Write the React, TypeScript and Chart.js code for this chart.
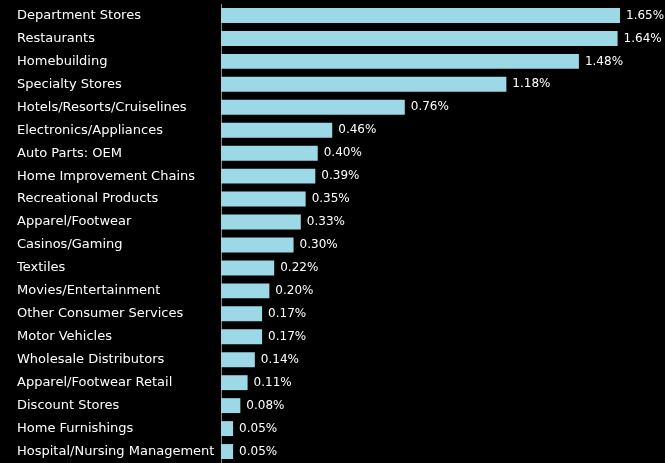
import React, { useEffect, useRef } from "react";
import { Chart, registerables } from "chart.js";

Chart.register(...registerables);

const categories = [
  "Department Stores",
  "Restaurants",
  "Homebuilding",
  "Specialty Stores",
  "Hotels/Resorts/Cruiselines",
  "Electronics/Appliances",
  "Auto Parts: OEM",
  "Home Improvement Chains",
  "Recreational Products",
  "Apparel/Footwear",
  "Casinos/Gaming",
  "Textiles",
  "Movies/Entertainment",
  "Other Consumer Services",
  "Motor Vehicles",
  "Wholesale Distributors",
  "Apparel/Footwear Retail",
  "Discount Stores",
  "Home Furnishings",
  "Hospital/Nursing Management",
];

const values = [
  1.65, 1.64, 1.48, 1.18, 0.76, 0.46, 0.4, 0.39, 0.35, 0.33, 0.3, 0.22, 0.2,
  0.17, 0.17, 0.14, 0.11, 0.08, 0.05, 0.05,
];

const valueLabels = values.map((v) => v.toFixed(2) + "%");

const FONT = "'DejaVu Sans', sans-serif";

const valueLabelPlugin = {
  id: "valueLabels",
  afterDatasetsDraw(chart: any) {
    const ctx = chart.ctx;
    const meta = chart.getDatasetMeta(0);
    ctx.save();
    ctx.fillStyle = "#ffffff";
    ctx.font = `12px ${FONT}`;
    ctx.textAlign = "left";
    ctx.textBaseline = "middle";
    meta.data.forEach((bar: any, i: number) => {
      ctx.fillText(valueLabels[i], bar.x + 6, bar.y);
    });
    ctx.restore();
  },
};

export default function App() {
  const ref = useRef<HTMLCanvasElement>(null);
  useEffect(() => {
    if (!ref.current) return;
    const chart = new Chart(ref.current, {
      type: "bar",
      data: {
        labels: categories,
        datasets: [
          {
            data: values,
            backgroundColor: "#9cd8e6",
            borderWidth: 0,
            barPercentage: 0.65,
            categoryPercentage: 1,
          },
        ],
      },
      options: {
        indexAxis: "y",
        animation: false,
        responsive: false,
        maintainAspectRatio: false,
        layout: { padding: { left: 17, top: 4, right: 0, bottom: 0 } },
        plugins: {
          legend: { display: false },
          tooltip: { enabled: false },
        },
        scales: {
          x: {
            display: false,
            min: 0,
            max: 1.836,
          },
          y: {
            afterFit(scale: any) {
              scale.width = 204;
              scale.paddingTop = 0;
              scale.paddingBottom = 0;
            },
            grid: { display: false },
            border: { display: true, color: "#8a8a8a", dash: [2, 2], width: 1 },
            ticks: {
              color: "#ffffff",
              font: { family: FONT, size: 13 },
              crossAlign: "far",
              padding: 4,
              autoSkip: false,
            },
          },
        },
      },
      plugins: [valueLabelPlugin],
    });
    return () => chart.destroy();
  }, []);
  return (
    <div
      style={{
        position: "fixed",
        left: 0,
        top: 0,
        width: 665,
        height: 463,
        background: "#000000",
      }}
    >
      <canvas ref={ref} width={665} height={463} />
    </div>
  );
}
